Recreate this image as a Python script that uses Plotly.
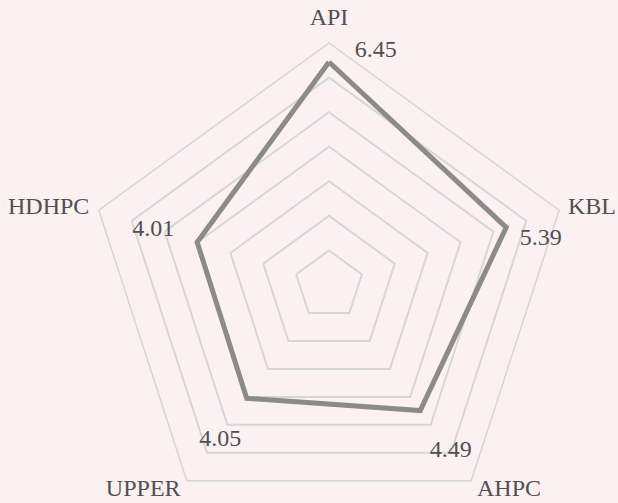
import plotly.graph_objects as go

# Scores per category
categories = ["API", "KBL", "AHPC", "UPPER", "HDHPC"]
values = [6.45, 5.39, 4.49, 4.05, 4.01]

# Angular position of each category (degrees, clockwise from top)
angles = [0, 72, 144, 216, 288]
R_MAX = 7

# Placement of the value labels relative to each point
label_dr = [0.46, 0.88, 1.47, 1.44, 1.32]
label_dtheta = [11.3, 5.8, -0.2, -1.0, -0.6]

# Placement of the category names relative to the outer ring
name_dr = [0.69, 0.93, 0.89, 1.0, 0.28]
name_dtheta = [0.0, 1.6, -5.3, 6.2, -0.2]
name_anchor = ["middle center", "middle center", "middle center",
               "middle center", "middle left"]

BG = "#fbf1f3"
GRID = "#d6d6d6"
LINE = "#8a8c85"
TEXT = "#505050"
FONT = "Liberation Serif, Times New Roman, serif"
FONT_SIZE = 24

# Page geometry (pixels): the chart and a wider concentric overlay for text
W, H = 618, 600
CX, CY = 329, 285          # centre, from the top-left corner
R_CHART = 242              # radius of the outer ring
R_TEXT = 285               # radius of the text overlay


def domain(radius):
    return dict(
        x=[(CX - radius) / W, (CX + radius) / W],
        y=[(H - CY - radius) / H, (H - CY + radius) / H],
    )


fig = go.Figure()

# Closed outline of the scores on the pentagon grid
fig.add_trace(go.Scatterpolar(
    r=values + values[:1],
    theta=categories + categories[:1],
    mode="lines",
    line=dict(color=LINE, width=5),
    hoverinfo="skip",
    showlegend=False,
    subplot="polar",
))

# Value labels
fig.add_trace(go.Scatterpolar(
    r=[v + d for v, d in zip(values, label_dr)],
    theta=[a + d for a, d in zip(angles, label_dtheta)],
    mode="text",
    text=[f"{v:.2f}" for v in values],
    textposition="middle center",
    textfont=dict(family=FONT, size=FONT_SIZE, color=TEXT),
    cliponaxis=False,
    hoverinfo="skip",
    showlegend=False,
    subplot="polar2",
))

# Category names
fig.add_trace(go.Scatterpolar(
    r=[R_MAX + d for d in name_dr],
    theta=[a + d for a, d in zip(angles, name_dtheta)],
    mode="text",
    text=categories,
    textposition=name_anchor,
    textfont=dict(family=FONT, size=FONT_SIZE, color=TEXT),
    cliponaxis=False,
    hoverinfo="skip",
    showlegend=False,
    subplot="polar2",
))

fig.update_layout(
    width=W,
    height=H,
    margin=dict(l=0, r=0, t=0, b=0),
    paper_bgcolor=BG,
    plot_bgcolor=BG,
    font=dict(family=FONT, size=FONT_SIZE, color=TEXT),
    polar=dict(
        domain=domain(R_CHART),
        bgcolor=BG,
        gridshape="linear",
        radialaxis=dict(
            range=[0, R_MAX],
            dtick=1,
            showticklabels=False,
            ticks="",
            showline=False,
            gridcolor=GRID,
            gridwidth=1.5,
        ),
        angularaxis=dict(
            rotation=90,
            direction="clockwise",
            categoryorder="array",
            categoryarray=categories,
            ticks="",
            showticklabels=False,
            showgrid=False,
            showline=True,
            linecolor=GRID,
            linewidth=1.5,
        ),
    ),
    # Same centre and radial scale as the chart, with room for outer labels
    polar2=dict(
        domain=domain(R_TEXT),
        bgcolor="rgba(0,0,0,0)",
        radialaxis=dict(range=[0, R_MAX * R_TEXT / R_CHART], visible=False),
        angularaxis=dict(
            rotation=90,
            direction="clockwise",
            visible=False,
        ),
    ),
)

fig.write_html("out.html", post_script="document.body.style.overflow='hidden';")
